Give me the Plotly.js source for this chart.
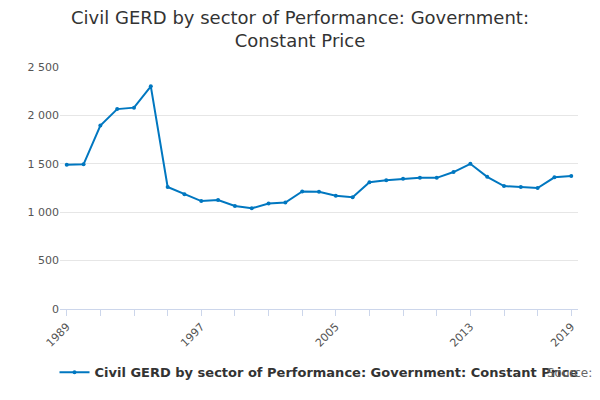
<!DOCTYPE html>
<html>
<head>
<script src="https://cdn.plot.ly/plotly-3.0.1.min.js"></script>
</head>
<body style="margin:0">
<div id="chart" style="width:600px;height:400px"></div>
<script>
// Civil GERD, government sector, constant price
let years = [];
for (let y = 1989; y <= 2019; y++) years.push(y);
let values = [1490, 1495, 1895, 2065, 2080, 2300, 1260, 1185, 1115, 1125, 1065, 1040, 1090, 1100,
  1215, 1210, 1170, 1155, 1310, 1330, 1345, 1355, 1355, 1415, 1500, 1365, 1270, 1260, 1250, 1360, 1375];
let labelYears = [1989, 1997, 2005, 2013, 2019];

let tickVals = [];
for (let y = 1989; y <= 2019; y += 2) tickVals.push(y);
tickVals.push(2019);
let tickText = tickVals.map(v => labelYears.includes(v) ? String(v) : '');

var trace = {
  x: years,
  y: values,
  mode: 'lines+markers',
  type: 'scatter',
  name: 'Civil GERD by sector of Performance: Government: Constant Price',
  line: {color: '#0077c0', width: 2},
  marker: {color: '#0077c0', size: 4}
};

var layout = {
  width: 600, height: 400,
  font: {family: 'DejaVu Sans', color: '#444'},
  title: {text: 'Civil GERD by sector of Performance: Government:<br>Constant Price',
    font: {size: 18, color: '#333'}, y: 0.94},
  margin: {l: 60, r: 22, t: 67, b: 82},
  xaxis: {
    range: [1988.6, 2019.4], tickvals: tickVals, ticktext: tickText,
    tickangle: -45, ticks: 'outside', ticklen: 6, tickcolor: '#ccd6eb',
    showgrid: false, showline: true, linecolor: '#ccd6eb',
    tickfont: {size: 11, color: '#555'}, zeroline: false
  },
  yaxis: {
    range: [0, 2500], dtick: 500, tickformat: ',',
    gridcolor: '#e6e6e6', zeroline: false, tickfont: {size: 11, color: '#555'}
  },
  separators: '. ',
  showlegend: true,
  legend: {orientation: 'h', x: 0.5, xanchor: 'center', y: -0.2, font: {size: 13, color: '#333', weight: 'bold'}},
  annotations: [{text: 'Source:', xref: 'paper', yref: 'paper', x: 1.03, y: -0.3,
    xanchor: 'right', showarrow: false, font: {size: 12, color: '#666'}}]
};
Plotly.newPlot('chart', [trace], layout, {displayModeBar: false});
</script>
</body>
</html>
